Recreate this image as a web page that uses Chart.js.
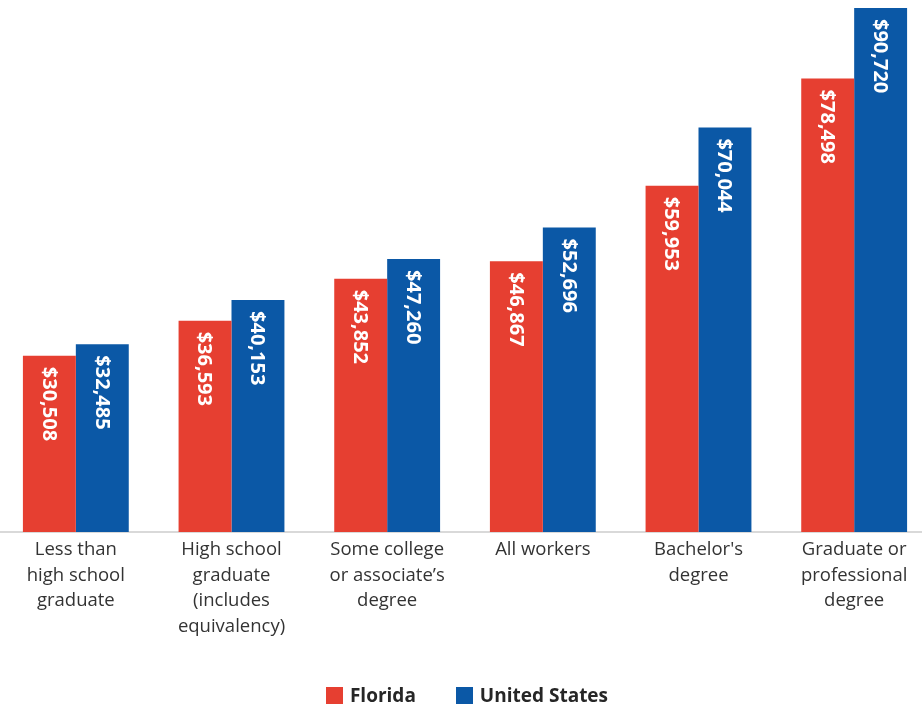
<!DOCTYPE html>
<html>
<head>
<meta charset="utf-8">
<script src="https://cdn.jsdelivr.net/npm/chart.js@4.4.0/dist/chart.umd.min.js"></script>
<style>
  html, body { margin: 0; padding: 0; background: #fff; overflow: hidden; }
  #wrap { position: relative; width: 922px; height: 708px; overflow: hidden; }
  #chart { position: absolute; left: -2px; top: 0; }
  #legend {
    position: absolute; left: 12px; right: 0; top: 682px;
    display: flex; justify-content: center; gap: 40px;
    font-family: 'Open Sans', sans-serif; font-weight: bold; font-size: 19px; color: #262626;
  }
  #legend span { display: flex; align-items: center; }
  #legend i { display: inline-block; width: 17px; height: 17px; margin-right: 7px; }
</style>
</head>
<body>
<div id="wrap">
  <canvas id="chart" width="934" height="708"></canvas>
  <div id="legend"></div>
</div>
<script>
const categories = [
  ['Less than', 'high school', 'graduate'],
  ['High school', 'graduate', '(includes', 'equivalency)'],
  ['Some college', 'or associate\u2019s', 'degree'],
  ['All workers'],
  ["Bachelor's", 'degree'],
  ['Graduate or', 'professional', 'degree']
];
const florida = [30508, 36593, 43852, 46867, 59953, 78498];
const unitedStates = [32485, 40153, 47260, 52696, 70044, 90720];

const RED = '#E63F31';
const BLUE = '#0B58A6';

// white vertical value labels inside the top of each bar
const barLabels = {
  id: 'barLabels',
  afterDatasetsDraw(chart) {
    const ctx = chart.ctx;
    chart.data.datasets.forEach((ds, i) => {
      chart.getDatasetMeta(i).data.forEach((bar, j) => {
        ctx.save();
        ctx.translate(bar.x, bar.y + 11);
        ctx.rotate(Math.PI / 2);
        ctx.font = 'bold 20px "Open Sans", sans-serif';
        ctx.fillStyle = '#fff';
        ctx.textAlign = 'left';
        ctx.textBaseline = 'middle';
        ctx.fillText('$' + ds.data[j].toLocaleString('en-US'), 0, 1);
        ctx.restore();
      });
    });
  }
};

const chart = new Chart(document.getElementById('chart').getContext('2d'), {
  type: 'bar',
  data: {
    labels: categories,
    datasets: [
      { label: 'Florida', data: florida, backgroundColor: RED },
      { label: 'United States', data: unitedStates, backgroundColor: BLUE }
    ]
  },
  options: {
    responsive: false,
    animation: false,
    layout: { padding: { left: 0, right: 0, top: 0, bottom: 60 } },
    datasets: {
      bar: { barPercentage: 1, categoryPercentage: 0.68 }
    },
    scales: {
      x: {
        grid: { display: false, drawTicks: false },
        border: { color: '#d9d9d9', width: 2 },
        ticks: {
          color: '#333',
          padding: 5,
          maxRotation: 0,
          autoSkip: false,
          font: { family: 'Open Sans', size: 18.5, lineHeight: 1.38 }
        },
        afterFit: (scale) => { scale.height = 116; }
      },
      y: {
        display: false,
        min: 0,
        max: 92100
      }
    },
    plugins: {
      legend: { display: false },
      tooltip: { enabled: false }
    }
  },
  plugins: [barLabels]
});

// legend below the chart
const legendEl = document.getElementById('legend');
chart.data.datasets.forEach((ds) => {
  const item = document.createElement('span');
  item.innerHTML = '<i style="background:' + ds.backgroundColor + '"></i>' + ds.label;
  legendEl.appendChild(item);
});
</script>
</body>
</html>
